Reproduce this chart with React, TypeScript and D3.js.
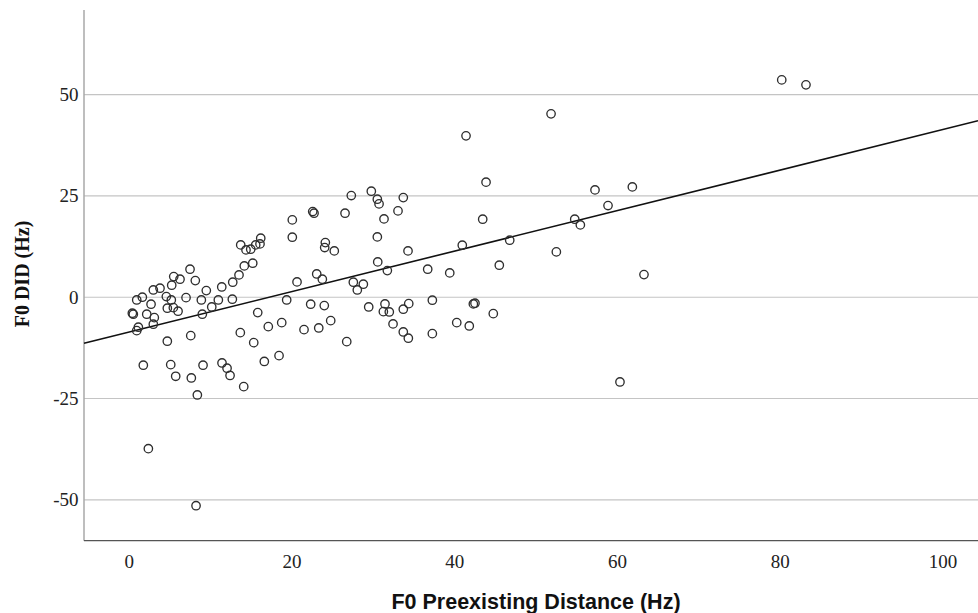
import React, { useEffect } from "react";
import * as d3 from "d3";

const X_TICKS = [0, 20, 40, 60, 80, 100];
const Y_TICKS = [-50, -25, 0, 25, 50];
const X_TITLE = "F0 Preexisting Distance (Hz)";
const Y_TITLE = "F0 DID (Hz)";

// Observed points: preexisting distance (Hz)
const distance = [
  22.54, 22.7, 20.03, 20.03, 13.69, 14.34, 14.92, 15.53, 16.15, 16.06,
  24.09, 24.01, 25.19, 7.46, 5.46, 6.23, 8.11, 14.13, 15.17, 13.48,
  12.71, 11.36, 9.46, 5.21, 3.77, 2.95, 1.6, 0.91, 2.67, 4.55,
  5.16, 6.97, 8.85, 10.94, 12.66, 4.67, 5.41, 5.99, 10.13, 8.97,
  0.37, 0.49, 2.14, 3.07, 2.95, 1.11, 0.91, 4.67, 7.55, 13.64,
  15.29, 15.78, 17.08, 18.73, 19.34, 20.61, 22.29, 23.96, 23.03, 23.72,
  21.47, 23.28, 24.75, 1.72, 5.09, 9.06, 11.39, 12.01, 12.38, 5.7,
  7.62, 16.59, 18.4, 14.06, 8.36, 2.34, 8.2, 43.84, 27.28, 29.74,
  30.48, 30.69, 33.67, 26.51, 33.02, 31.3, 43.43, 30.48, 34.25, 40.92,
  46.75, 30.53, 31.71, 36.67, 39.38, 45.47, 27.53, 28.76, 28.02, 29.42,
  31.42, 31.22, 31.95, 33.67, 34.34, 37.24, 42.28, 42.48, 44.73, 26.72,
  32.41, 33.67, 34.29, 37.24, 40.24, 41.78, 51.83, 57.23, 61.82, 58.83,
  54.74, 55.43, 52.48, 63.25, 60.3, 80.18, 83.16, 41.38,
];

// Observed points: F0 DID (Hz)
const did = [
  21.14, 20.74, 19.09, 14.81, 12.91, 11.68, 11.85, 12.91, 14.57, 13.16,
  13.48, 12.25, 11.43, 6.91, 5.09, 4.44, 4.1, 7.73, 8.4, 5.51,
  3.7, 2.54, 1.63, 2.96, 2.22, 1.8, 0.0, -0.67, -1.73, 0.15,
  -0.67, -0.1, -0.67, -0.67, -0.49, -2.72, -2.57, -3.46, -2.4, -4.2,
  -3.95, -4.2, -4.2, -5.04, -6.67, -7.41, -8.25, -10.86, -9.48, -8.74,
  -11.21, -3.8, -7.26, -6.27, -0.67, 3.78, -1.73, -2.07, 5.75, 4.44,
  -8.0, -7.58, -5.78, -16.79, -16.64, -16.79, -16.22, -17.53, -19.31, -19.51,
  -19.93, -15.85, -14.42, -22.07, -24.12, -37.38, -51.46, 28.4, 25.09, 26.17,
  24.2, 23.04, 24.59, 20.74, 21.31, 19.33, 19.26, 14.89, 11.43, 12.84,
  14.07, 8.72, 6.57, 6.91, 6.0, 7.9, 3.7, 3.21, 1.8, -2.4,
  -1.65, -3.56, -3.63, -2.96, -1.58, -0.74, -1.65, -1.48, -4.05, -10.96,
  -6.59, -8.57, -10.12, -8.99, -6.27, -7.09, 45.26, 26.49, 27.23, 22.62,
  19.26, 17.85, 11.19, 5.58, -20.91, 53.65, 52.42, 39.83,
];

// Linear fit line
const FIT_INTERCEPT = -8.6;
const FIT_SLOPE = 0.5;

const X_DOMAIN = [-5.57, 104.3];
const Y_DOMAIN = [-60.1, 70.9];

export default function App() {
  useEffect(() => {
    document.body.style.margin = "0";
  }, []);

  const W = 978;
  const H = 613;
  const left = 84;
  const right = 978;
  const top = 10;
  const bottom = 540.7;

  const x = d3.scaleLinear().domain(X_DOMAIN).range([left, right]);
  const y = d3.scaleLinear().domain(Y_DOMAIN).range([bottom, top]);

  const points = distance.map((d, i) => ({ x: d, y: did[i] }));
  const fitLine = d3
    .line<number>()
    .x((d) => x(d))
    .y((d) => y(FIT_INTERCEPT + FIT_SLOPE * d));

  return (
    <svg
      width={W}
      height={H}
      style={{ display: "block", position: "absolute", left: 0, top: 0, background: "#fff" }}
    >
      <rect x={0} y={0} width={W} height={H} fill="#fff" />
      {Y_TICKS.map((t) => (
        <line
          key={"g" + t}
          x1={left}
          x2={right}
          y1={y(t)}
          y2={y(t)}
          stroke="#c4c4c4"
          strokeWidth={1.2}
        />
      ))}
      <line x1={left} x2={left} y1={top} y2={bottom} stroke="#a8a8a8" strokeWidth={1.5} />
      <line x1={left} x2={right} y1={bottom} y2={bottom} stroke="#555" strokeWidth={1.2} />
      {Y_TICKS.map((t) => (
        <text
          key={"yl" + t}
          x={78.5}
          y={y(t)}
          dy="0.34em"
          textAnchor="end"
          fontFamily="'Liberation Serif', 'Times New Roman', serif"
          fontSize={19}
          fill="#222"
        >
          {t}
        </text>
      ))}
      {X_TICKS.map((t) => (
        <text
          key={"xl" + t}
          x={x(t)}
          y={567.5}
          textAnchor="middle"
          fontFamily="'Liberation Serif', 'Times New Roman', serif"
          fontSize={19}
          fill="#222"
        >
          {t}
        </text>
      ))}
      <path d={fitLine(X_DOMAIN) || ""} fill="none" stroke="#111" strokeWidth={1.6} />
      {points.map((p, i) => (
        <circle
          key={i}
          cx={x(p.x)}
          cy={y(p.y)}
          r={4.2}
          fill="none"
          stroke="#2e2e2e"
          strokeWidth={1.35}
        />
      ))}
      <text
        x={536}
        y={609}
        textAnchor="middle"
        fontFamily="'Liberation Sans', Arial, sans-serif"
        fontWeight="bold"
        fontSize={21.5}
        fill="#111"
      >
        {X_TITLE}
      </text>
      <text
        transform={`translate(29,274) rotate(-90)`}
        textAnchor="middle"
        fontFamily="'Liberation Serif', 'Times New Roman', serif"
        fontWeight="bold"
        fontSize={20}
        fill="#111"
      >
        {Y_TITLE}
      </text>
    </svg>
  );
}
